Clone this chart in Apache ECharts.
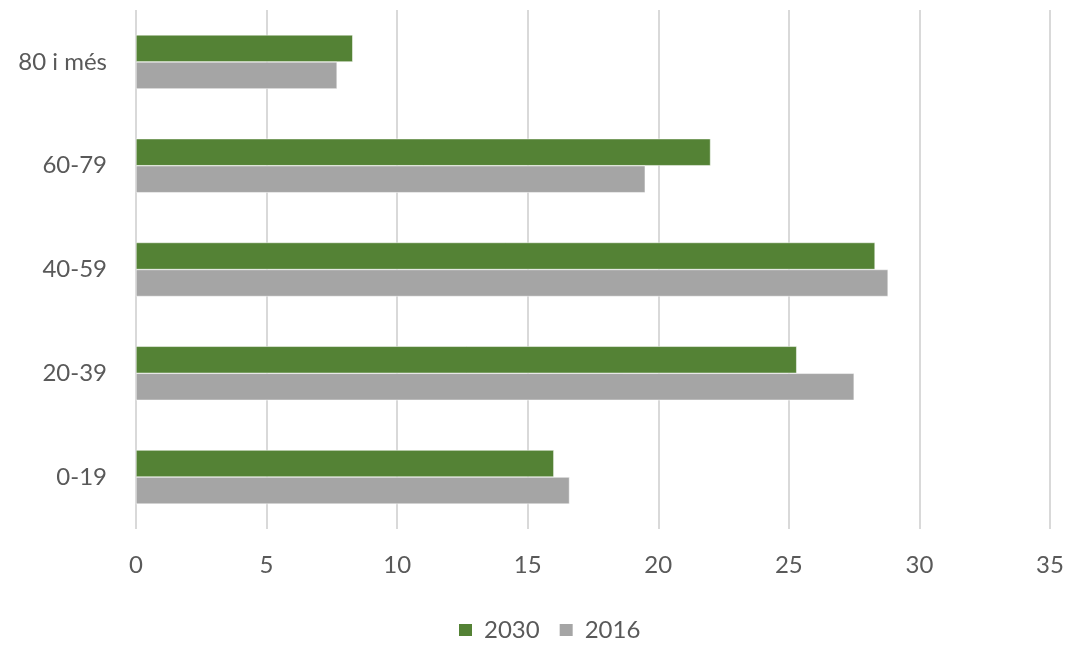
<!DOCTYPE html>
<html><head><meta charset="utf-8">
<script src="https://cdn.jsdelivr.net/npm/echarts@6/dist/echarts.min.js"></script>
<style>html,body{margin:0;padding:0;background:#fff}#c{width:1074px;height:646px}</style>
</head><body><div id="c"></div>
<script>
const categories = ['0-19', '20-39', '40-59', '60-79', '80 i més'];
const values2030 = [16.0, 25.3, 28.3, 22.0, 8.3];
const values2016 = [16.6, 27.5, 28.8, 19.5, 7.7];
const xTicks = { min: 0, max: 35, interval: 5 };

const chart = echarts.init(document.getElementById('c'));
const font = 'Lato, "Open Sans", sans-serif';
chart.setOption({
  animation: false,
  textStyle: { fontFamily: font },
  grid: { left: 136, right: 24, top: 10, bottom: 117 },
  legend: {
    data: ['2030', '2016'], top: 618, left: 457, padding: 0,
    itemWidth: 15, itemHeight: 14, itemGap: 18,
    textStyle: { fontSize: 24, color: '#595959', fontFamily: font, padding: [0, 0, 0, 6] },
    icon: 'rect'
  },
  xAxis: {
    type: 'value', min: xTicks.min, max: xTicks.max, interval: xTicks.interval,
    axisLine: { show: false }, axisTick: { show: false },
    splitLine: { show: true, lineStyle: { color: '#d9d9d9', width: 2 } },
    axisLabel: { fontSize: 24, color: '#595959', margin: 24, fontFamily: font }
  },
  yAxis: {
    type: 'category', data: categories,
    axisLine: { show: false }, axisTick: { show: false },
    axisLabel: { fontSize: 24, color: '#595959', margin: 29, fontFamily: font }
  },
  series: [
    { name: '2030', type: 'bar', data: values2030, barWidth: 27, barGap: '0%',
      itemStyle: { color: '#548235', borderColor: '#ffffff', borderWidth: 0.5 } },
    { name: '2016', type: 'bar', data: values2016, barWidth: 27, barGap: '0%',
      itemStyle: { color: '#a5a5a5', borderColor: '#ffffff', borderWidth: 0.5 } }
  ]
});
</script></body></html>
